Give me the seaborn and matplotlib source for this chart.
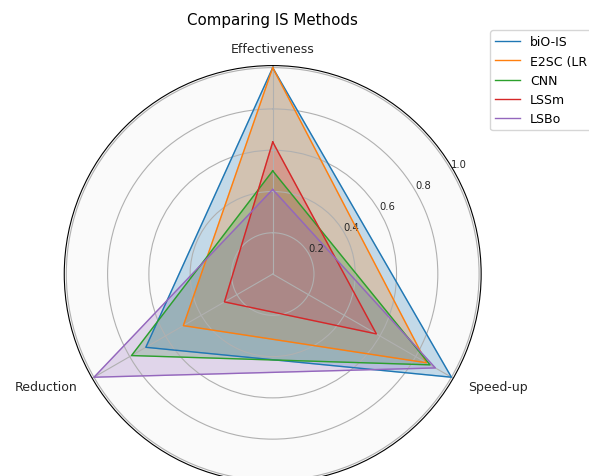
import numpy as np
import pandas as pd
import matplotlib
matplotlib.use("Agg")
import matplotlib.pyplot as plt
import seaborn as sns

# Criteria compared on each spoke of the radar
criteria = ["Effectiveness", "Speed-up", "Reduction"]

# Normalised scores per instance-selection method
methods = ["biO-IS", "E2SC (LR", "CNN", "LSSm", "LSBo"]
effectiveness = [1.00, 1.00, 0.50, 0.64, 0.41]
speed_up = [1.00, 0.86, 0.88, 0.58, 0.91]
reduction = [0.71, 0.50, 0.79, 0.27, 1.00]

radial_ticks = [0.2, 0.4, 0.6, 0.8, 1.0]

plt.rcParams["font.family"] = ["DejaVu Sans"]

palette = sns.color_palette("tab10", len(methods))

fig = plt.figure(figsize=(5.89, 4.77), dpi=100)
ax = fig.add_axes([0.109, -0.0136, 0.708, 0.874], projection="polar")
ax.set_facecolor("#fafafa")

angles = np.linspace(0, 2 * np.pi, len(criteria), endpoint=False)
closed_angles = np.concatenate([angles, angles[:1]])

ax.set_theta_offset(np.pi / 2)
ax.set_theta_direction(-1)

rows = []
for m, e, s, r in zip(methods, effectiveness, speed_up, reduction):
    vals = [e, s, r, e]
    for k, (a, v) in enumerate(zip(closed_angles, vals)):
        rows.append({"method": m, "order": k, "theta": a, "score": v})
df = pd.DataFrame(rows)

handles = []
for color, m in zip(palette, methods):
    sub = df[df["method"] == m].sort_values("order")
    sns.lineplot(data=sub, x="theta", y="score", ax=ax, color=color,
                 linewidth=1, sort=False, estimator=None, label=m, legend=False)
    ax.fill(sub["theta"], sub["score"], color=color, alpha=0.25)
    handles.append(plt.Line2D([], [], color=color, linewidth=1, label=m))

ax.set_xticks(angles)
labels = ax.set_xticklabels(criteria, fontsize=9, color="#262626")
for lbl, ha in zip(labels, ["center", "left", "right"]):
    lbl.set_horizontalalignment(ha)
    lbl.set_verticalalignment("center")
ax.set_xlabel("")
ax.set_ylabel("")
ax.set_ylim(0, 1.01)
ax.set_yticks(radial_ticks)
ax.set_yticklabels([f"{t:.1f}" for t in radial_ticks], fontsize=7.2, color="#262626")
ax.set_rlabel_position(59.5)
ax.grid(True, color="#b0b0b0", linewidth=0.8)
ax.tick_params(axis="x", pad=2)

ax.set_title("Comparing IS Methods", fontsize=10.8, y=1.11, pad=0, va="center")

ax.legend(handles=handles, loc="upper left", bbox_to_anchor=(0.832, 0.934),
          bbox_transform=fig.transFigure, borderaxespad=0, fontsize=9)

fig.savefig("out.png", dpi=100)
